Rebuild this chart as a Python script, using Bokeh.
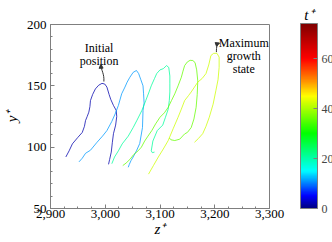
import numpy as np
from bokeh.plotting import figure
from bokeh.models import (ColumnDataSource, LinearColorMapper, ColorBar, FixedTicker,
                          NumeralTickFormatter, Label, Arrow, NormalHead)
from bokeh.embed import file_html
from bokeh.resources import INLINE

# ---- data ----
t_values = [2, 11, 21, 36, 42]

z_a = [2928, 2934, 2940, 2950, 2958, 2962, 2964, 2967, 2970, 2972, 2973, 2977, 2982, 2988, 2994,
       2999, 3003, 3007, 3010, 3015, 3020, 3021, 3019, 3015, 3013, 3011, 3008, 3006]
y_a = [92, 97, 102.7, 108, 112, 117, 121.7, 125, 128.5, 133, 138, 143, 147.5, 150.5, 152,
       151.5, 149, 143, 139, 134, 130, 125, 118, 111, 104, 96, 90, 86]

z_b = [2952, 2958, 2964, 2973, 2985, 2995, 3003, 3012, 3018, 3024, 3030, 3036, 3040, 3045, 3051,
       3057, 3061, 3065, 3069, 3070, 3071, 3069, 3068, 3063, 3057, 3051, 3047, 3044, 3042]
y_b = [88, 91, 95, 97.5, 104, 109, 113.5, 121, 127, 134, 143.5, 149, 153, 157, 161,
       162.5, 160, 155, 150, 143.5, 136, 130, 116, 103, 97, 92, 89, 86, 83.6]

z_c = [3012, 3017, 3024, 3031, 3042, 3051, 3058, 3067, 3074, 3080, 3084, 3090, 3094, 3100, 3106,
       3112, 3116, 3118, 3118, 3118, 3117, 3115, 3110, 3105, 3095, 3087, 3084, 3086, 3090]
y_c = [86.5, 92, 97, 102.7, 109, 116, 122, 130, 138, 145, 150, 156, 160, 163, 164,
       166.5, 165, 158, 151.6, 145, 138, 131, 124.4, 118, 113.5, 105, 97, 95.5, 96]

z_d = [3032, 3038, 3045, 3052, 3060, 3066, 3072, 3078, 3085, 3092, 3100, 3108, 3115, 3121, 3127,
       3133, 3139, 3142, 3145, 3150, 3155, 3160, 3164, 3167, 3169, 3168, 3166, 3162, 3157, 3150,
       3145, 3136, 3127, 3120, 3117]
y_d = [85, 87, 90, 94, 97, 100, 105, 109, 113.5, 119, 124.4, 128, 132.5, 138, 143.5,
       150, 157, 162, 166.5, 169.5, 170.8, 170.6, 169, 163, 154, 143, 132.5, 123, 116, 112,
       110.8, 106.5, 105.4, 106, 107.5]

z_e = [3079, 3088, 3097, 3106, 3115, 3124, 3133, 3139, 3145, 3152, 3157, 3163, 3169, 3177, 3184,
       3189, 3193, 3198, 3204, 3208, 3208, 3206, 3202, 3197, 3190, 3184, 3178, 3170, 3163]
y_e = [78, 85, 92, 98.5, 105.4, 115, 124.4, 131, 138, 142, 145, 149, 153, 156, 160,
       167, 174.7, 176.5, 176.5, 173.4, 165, 155, 146, 135, 124.4, 117, 111, 107, 104]

x_ticks = [2900, 3000, 3100, 3200, 3300]
y_ticks = [50, 100, 150, 200]
cb_ticks = [0, 20, 40, 60]
t_low, t_high = 0, 74

# ---- colormap (jet-like) ----
stops_t = [0, 5, 15, 30, 45, 52, 60, 74]
stops_rgb = [(0, 0, 128), (0, 0, 255), (0, 255, 255), (0, 255, 0), (255, 255, 0),
             (255, 128, 0), (255, 0, 0), (128, 0, 0)]
tt = np.linspace(t_low, t_high, 256)
palette = []
for v in tt:
    r = np.interp(v, stops_t, [c[0] for c in stops_rgb])
    g = np.interp(v, stops_t, [c[1] for c in stops_rgb])
    b = np.interp(v, stops_t, [c[2] for c in stops_rgb])
    palette.append("#%02x%02x%02x" % (int(round(r)), int(round(g)), int(round(b))))

mapper = LinearColorMapper(palette=palette, low=t_low, high=t_high)

src = ColumnDataSource(dict(zs=[z_a, z_b, z_c, z_d, z_e],
                            ys=[y_a, y_b, y_c, y_d, y_e],
                            t=t_values))

SERIF = "'Liberation Serif'"
GRAY = "#7f7f7f"
INK = "#333333"

p = figure(width=332, height=242, x_range=(2900, 3300), y_range=(50, 200),
           output_backend="svg", toolbar_location=None,
           min_border_left=48, min_border_top=24, min_border_bottom=34, min_border_right=63)
p.grid.visible = False
p.outline_line_color = GRAY
p.background_fill_color = "white"
p.border_fill_color = "white"

# colour-bar heading as the figure title, pushed over the colour bar
p.title.text = "t⁺"
p.title.align = "right"
p.title.offset = -44
p.title.standoff = 0
p.title.vertical_align = "top"
p.title.text_font = SERIF
p.title.text_font_style = "italic"
p.title.text_font_size = "15px"
p.title.text_color = "black"

p.multi_line(xs="zs", ys="ys", source=src, line_width=1, line_alpha=0.75,
             line_color={"field": "t", "transform": mapper})

p.xaxis.ticker = FixedTicker(ticks=x_ticks, minor_ticks=list(range(2900, 3301, 25)))
p.yaxis.ticker = FixedTicker(ticks=y_ticks, minor_ticks=list(range(50, 201, 10)))
p.xaxis.formatter = NumeralTickFormatter(format="0,0")
for ax in (p.xaxis, p.yaxis):
    ax.axis_line_color = GRAY
    ax.major_tick_line_color = GRAY
    ax.minor_tick_line_color = GRAY
    ax.major_tick_in = 4
    ax.major_tick_out = 0
    ax.minor_tick_in = 2
    ax.minor_tick_out = 0
    ax.major_label_text_font = SERIF
    ax.major_label_text_font_size = "13px"
    ax.major_label_text_color = "black"
    ax.axis_label_text_font = SERIF
    ax.axis_label_text_font_style = "italic"
    ax.axis_label_text_font_size = "15px"
    ax.axis_label_text_color = "black"
p.xaxis.axis_label = "z⁺"
p.yaxis.axis_label = "y⁺"
p.xaxis.major_label_standoff = 1
p.xaxis.axis_label_standoff = 0
p.yaxis.major_label_standoff = 4
p.yaxis.axis_label_standoff = 4

cb = ColorBar(color_mapper=mapper, width=17, height=185, padding=0, margin=0,
              location=(250, 0), ticker=FixedTicker(ticks=cb_ticks),
              major_label_text_font=SERIF, major_label_text_font_size="12px",
              major_tick_in=4, major_tick_out=0, major_tick_line_color=GRAY,
              bar_line_color=GRAY, border_line_color=None,
              background_fill_color=None, label_standoff=4)
p.add_layout(cb, "center")

# annotations
for txt, zx, yy in [("Initial", 2988.7, 181.2), ("position", 2988.7, 170.6),
                    ("Maximum", 3253, 185.3), ("growth", 3253, 174.3), ("state", 3253, 163.7)]:
    p.add_layout(Label(x=zx, y=yy, text=txt, text_align="center", text_baseline="alphabetic",
                       text_font=SERIF, text_font_size="12px", text_color="black"))

p.bezier(x0=[2997.5, 3203], y0=[153.5, 177.5], x1=[2992.2, 3207.5], y1=[167.0, 184.6],
         cx0=[2998.5, 3203], cy0=[160, 182], cx1=[2992.5, 3204.5], cy1=[162.5, 184.5],
         line_color=INK, line_width=1)
p.add_layout(Arrow(end=NormalHead(size=4, fill_color=INK, line_color=INK),
                   x_start=2992.3, y_start=165.5, x_end=2992.1, y_end=167.6,
                   line_color=INK, line_width=1))
p.add_layout(Arrow(end=NormalHead(size=4, fill_color=INK, line_color=INK),
                   x_start=3206.5, y_start=184.5, x_end=3208.8, y_end=184.9,
                   line_color=INK, line_width=1))

open("out.html", "w").write(file_html(p, INLINE))
